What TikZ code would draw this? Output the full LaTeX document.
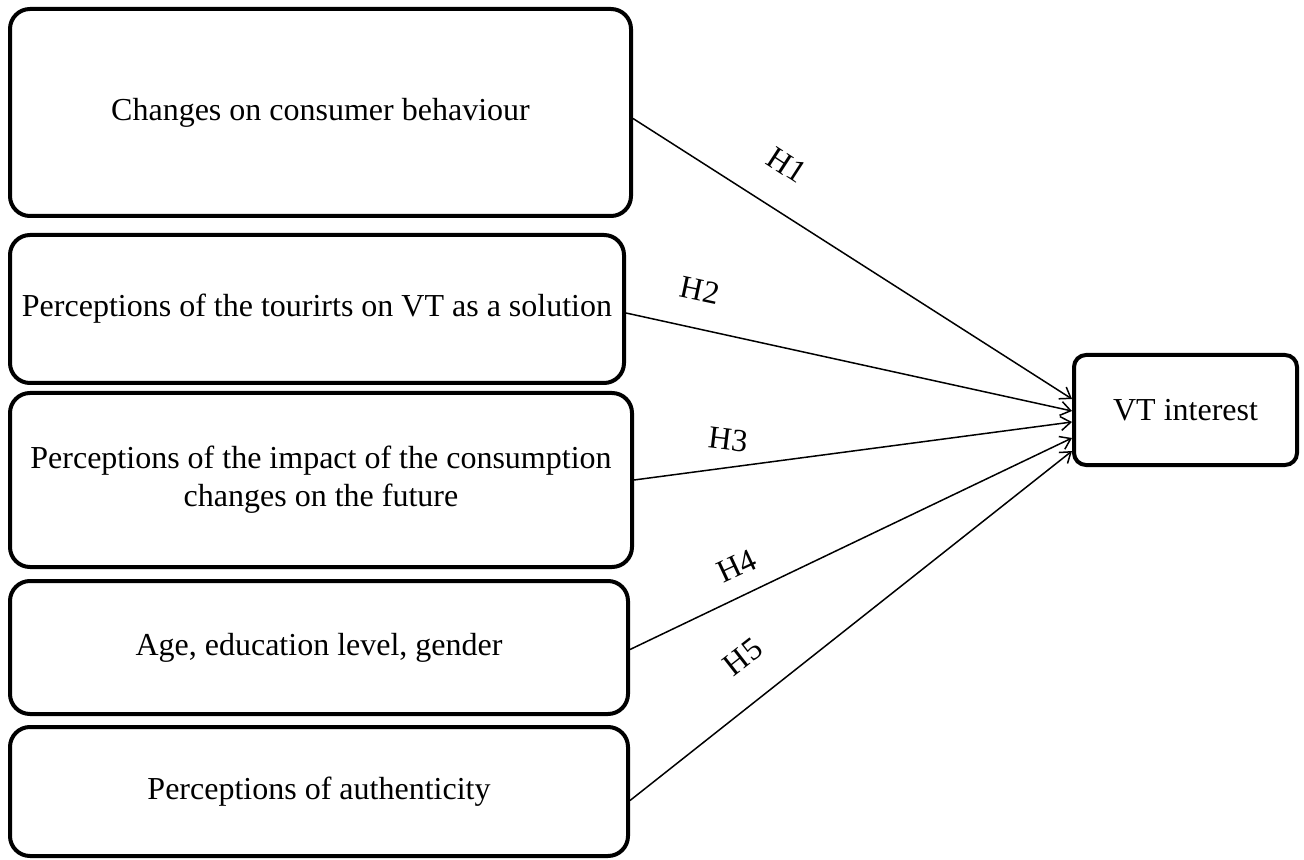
\documentclass[tikz,border=0pt]{standalone}
\usepackage{fontspec}
\setmainfont{Liberation Serif}
\usetikzlibrary{arrows.meta}
\begin{document}
\begin{tikzpicture}[x=0.5pt,y=-0.5pt,
  factor/.style={draw, line width=2pt, rounded corners=10pt, align=center,
    inner sep=0pt, font=\fontsize{16}{19}\selectfont},
  target/.style={draw, line width=2pt, rounded corners=6pt,
    inner sep=0pt, font=\fontsize{16}{19}\selectfont},
  link/.style={line width=0.75pt, -{Straight Barb[length=5pt,width=7pt]}},
  hlabel/.style={inner sep=0pt, font=\fontsize{16}{19}\selectfont}]
\useasboundingbox (0,0) rectangle (1304,860);
\node[factor, minimum width=310.5pt, minimum height=103.5pt] (b1) at (320.5,112.5) {Changes on consumer behaviour};
\node[factor, minimum width=307pt, minimum height=74pt] (b2) at (317,309) {Perceptions of the tourirts on VT as a solution};
\node[factor, minimum width=311pt, minimum height=87pt] (b3) at (321,480) {Perceptions of the impact of the consumption\\changes on the future};
\node[factor, minimum width=309pt, minimum height=66.5pt] (b4) at (319,647.5) {Age, education level, gender};
\node[factor, minimum width=309pt, minimum height=64.5pt] (b5) at (319,791.5) {Perceptions of authenticity};
\node[target, minimum width=111.5pt, minimum height=55pt] (vt) at (1185.5,410) {VT interest};

\draw[link] ([yshift=-3pt]b1.east) -- ([yshift=5.5pt]vt.west);
\draw[link] ([yshift=-2pt]b2.east) -- ([yshift=-0.5pt]vt.west);
\draw[link] (b3.east) -- ([yshift=-6pt]vt.west);
\draw[link] ([yshift=-1pt]b4.east) -- ([yshift=-14pt]vt.west);
\draw[link] ([yshift=-4.5pt]b5.east) -- ([yshift=-20.5pt]vt.west);

\node[hlabel, rotate=-33] (h1) at (787,165) {H1};
\node[hlabel, rotate=-12] (h2) at (700,290) {H2};
\node[hlabel, rotate=-7] (h3) at (728,440) {H3};
\node[hlabel, rotate=25] (h4) at (737,566) {H4};
\node[hlabel, rotate=38] (h5) at (743,657) {H5};
\end{tikzpicture}
\end{document}
